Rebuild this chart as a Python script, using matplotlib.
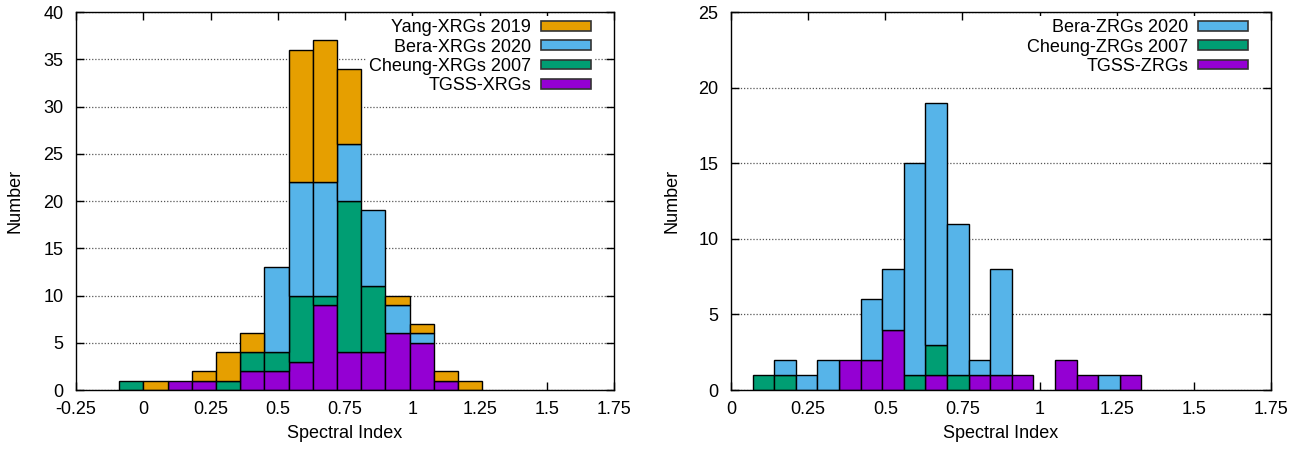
import numpy as np
import matplotlib.pyplot as plt
from matplotlib.ticker import FuncFormatter, MultipleLocator

plt.rcParams['font.family'] = ['Liberation Sans', 'DejaVu Sans']
plt.rcParams['axes.unicode_minus'] = False

#%% XRG spectral index counts (bin width 0.09, first bin starts at -0.09)
xrgBinStart = -0.09
xrgBinWidth = 0.09
xrgTgss   = [0, 0, 1, 1, 0, 2, 2, 3, 9, 4, 4, 6, 5, 1, 0]
xrgCheung = [1, 0, 0, 0, 1, 2, 2, 7, 1, 16, 7, 0, 0, 0, 0]
xrgBera   = [0, 0, 0, 0, 0, 0, 9, 12, 12, 6, 8, 3, 1, 0, 0]
xrgYang   = [0, 1, 0, 1, 3, 2, 0, 14, 15, 8, 0, 1, 1, 1, 1]

#%% ZRG spectral index counts (bin width 0.07, first bin starts at 0.07)
zrgBinStart = 0.07
zrgBinWidth = 0.07
zrgTgss   = [0, 0, 0, 0, 2, 2, 4, 0, 1, 0, 1, 1, 1, 0, 2, 1, 0, 1]
zrgCheung = [1, 1, 0, 0, 0, 0, 0, 1, 2, 1, 0, 0, 0, 0, 0, 0, 0, 0]
zrgBera   = [0, 1, 1, 2, 0, 4, 4, 14, 16, 10, 1, 7, 0, 0, 0, 0, 1, 0]

colTgss = '#9400D3'
colCheung = '#009E73'
colBera = '#56B4E9'
colYang = '#E69F00'

fontSize = 13


def stackedBars(ax, binStart, binWidth, seriesList):
    # seriesList goes bottom to top: (counts, colour, label)
    numBins = len(seriesList[0][0])
    centres = binStart + binWidth * (np.arange(numBins) + 0.5)
    bottom = np.zeros(numBins)
    handles = []
    for counts, colour, label in seriesList:
        counts = np.asarray(counts, dtype=float)
        keep = counts > 0
        ax.bar(centres[keep], counts[keep], width=binWidth, bottom=bottom[keep],
               color=colour, edgecolor='black', linewidth=1.0, zorder=2)
        handles.append(plt.Rectangle((0, 0), 1, 1, facecolor=colour,
                                     edgecolor='#333333', linewidth=1.2, label=label))
        bottom += counts
    return handles[::-1]


def styleAxes(ax, xMin, xMax, yMax, yLabelX):
    ax.set_xlim(xMin, xMax)
    ax.set_ylim(0, yMax)
    ax.xaxis.set_major_locator(MultipleLocator(0.25))
    ax.yaxis.set_major_locator(MultipleLocator(5))
    ax.xaxis.set_major_formatter(FuncFormatter(lambda v, p: f'{v:g}'))
    ax.tick_params(direction='in', top=True, right=True, length=6, width=1,
                   labelsize=fontSize)
    ax.tick_params(axis='x', pad=8)
    ax.tick_params(axis='y', pad=9)
    ax.grid(axis='y', linestyle=(0, (1, 1.5)), color='#555555', linewidth=0.9, zorder=0)
    ax.set_axisbelow(True)
    for spine in ax.spines.values():
        spine.set_linewidth(1.0)
    ax.set_xlabel('Spectral Index', fontsize=fontSize, labelpad=5)
    ax.set_ylabel('Number', fontsize=fontSize)
    ax.yaxis.set_label_coords(yLabelX, 0.5)


fig = plt.figure(figsize=(13.11, 4.5), dpi=100)
axL = fig.add_axes([0.058, 0.1333, 0.4104, 0.84])
axR = fig.add_axes([0.5576, 0.1333, 0.4119, 0.84])

handlesL = stackedBars(axL, xrgBinStart, xrgBinWidth, [
    (xrgTgss, colTgss, 'TGSS-XRGs'),
    (xrgCheung, colCheung, 'Cheung-XRGs 2007'),
    (xrgBera, colBera, 'Bera-XRGs 2020'),
    (xrgYang, colYang, 'Yang-XRGs 2019'),
])
styleAxes(axL, -0.25, 1.75, 40, -0.0985)

handlesR = stackedBars(axR, zrgBinStart, zrgBinWidth, [
    (zrgTgss, colTgss, 'TGSS-ZRGs'),
    (zrgCheung, colCheung, 'Cheung-ZRGs 2007'),
    (zrgBera, colBera, 'Bera-ZRGs 2020'),
])
styleAxes(axR, 0, 1.75, 25, -0.094)

for ax, handles in ((axL, handlesL), (axR, handlesR)):
    leg = ax.legend(handles=handles, loc='upper right', markerfirst=False,
                    bbox_to_anchor=(1 - 16 / 538, 1.0),
                    fontsize=fontSize, handlelength=2.75, handleheight=0.45,
                    handletextpad=0.55, labelspacing=0.13, borderaxespad=0.2,
                    frameon=True, fancybox=False, edgecolor='none',
                    facecolor='white', framealpha=1.0, borderpad=0.2)
    leg.set_zorder(3)

fig.savefig('out.png', dpi=100)
